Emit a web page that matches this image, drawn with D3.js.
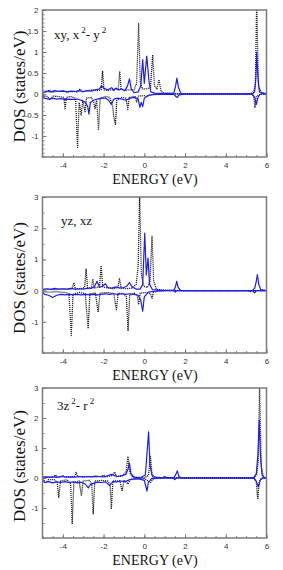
<!DOCTYPE html>
<html>
<head>
<meta charset="utf-8">
<script src="https://cdn.jsdelivr.net/npm/d3@7"></script>
<style>
  body { margin: 0; background: #fff; }
  svg { display: block; }
</style>
</head>
<body>
<script>
// energy axis ticks
var xMajor = [-4, -2, 0, 2, 4, 6];

// panel 1 : xy, x2-y2
var p1UpDot = [[-5,0.02],[-4.8,0.05],[-4.65,0.1],[-4.55,0.04],[-4.3,0.06],[-4.0,0.08],[-3.8,0.05],[-3.5,0.06],[-3.3,0.05],[-3.15,0.12],[-3.05,0.05],[-2.8,0.08],[-2.5,0.1],[-2.3,0.08],[-2.12,0.1],[-2.05,0.55],[-1.98,0.1],[-1.8,0.08],[-1.6,0.1],[-1.4,0.12],[-1.28,0.1],[-1.21,0.54],[-1.14,0.12],[-1.0,0.08],[-0.8,0.1],[-0.5,0.1],[-0.38,0.25],[-0.28,1.69],[-0.2,0.3],[-0.1,0.12],[0.1,0.12],[0.3,0.15],[0.41,0.93],[0.5,0.2],[0.62,0.12],[0.72,0.34],[0.82,0.06],[1.0,0.02],[1.5,0.01],[2,0],[5.2,0],[5.35,0.05],[5.45,0.2],[5.52,2.2],[5.6,0.2],[5.75,0.03],[6,0]];
var p1DnDot = [[-5,-0.04],[-4.75,-0.06],[-4.62,-0.14],[-4.5,-0.05],[-4.2,-0.06],[-3.95,-0.08],[-3.89,-0.37],[-3.83,-0.08],[-3.6,-0.06],[-3.38,-0.1],[-3.28,-1.27],[-3.2,-0.2],[-3.1,-0.5],[-3.02,-0.15],[-2.91,-0.42],[-2.84,-0.1],[-2.6,-0.08],[-2.48,-0.2],[-2.42,-0.35],[-2.34,-0.15],[-2.25,-0.86],[-2.17,-0.1],[-1.9,-0.06],[-1.7,-0.08],[-1.55,-0.3],[-1.5,-0.55],[-1.42,-0.72],[-1.35,-0.15],[-1.1,-0.08],[-0.9,-0.1],[-0.81,-0.37],[-0.74,-0.08],[-0.45,-0.06],[-0.37,-0.19],[-0.3,-0.05],[0,-0.04],[0.12,-0.06],[0.3,-0.02],[0.6,-0.01],[1,0],[5.3,0],[5.38,-0.08],[5.43,-0.33],[5.5,-0.06],[5.7,0],[6,0]];
var p1UpBlue = [[-5,0.03],[-4.8,0.07],[-4.6,0.05],[-4.4,0.08],[-4.2,0.06],[-4.0,0.07],[-3.8,0.05],[-3.6,0.07],[-3.4,0.06],[-3.2,0.08],[-3.0,0.06],[-2.8,0.08],[-2.6,0.07],[-2.4,0.1],[-2.2,0.12],[-2.1,0.2],[-2.0,0.14],[-1.8,0.1],[-1.6,0.15],[-1.5,0.08],[-1.4,0.14],[-1.25,0.1],[-1.1,0.12],[-0.95,0.08],[-0.82,0.2],[-0.73,0.36],[-0.64,0.12],[-0.5,0.03],[-0.3,0.05],[-0.17,0.2],[-0.08,0.82],[0.0,0.25],[0.05,0.55],[0.12,0.9],[0.23,0.3],[0.32,0.05],[0.5,0.02],[1.0,0.01],[1.45,0.02],[1.54,0.2],[1.6,0.38],[1.68,0.15],[1.8,0.01],[2.5,0],[5.3,0],[5.42,0.05],[5.48,0.4],[5.52,1.0],[5.58,0.4],[5.65,0.05],[6,0]];
var p1DnBlue = [[-5,-0.02],[-4.9,-0.1],[-4.7,-0.12],[-4.5,-0.1],[-4.3,-0.12],[-4.1,-0.11],[-3.9,-0.13],[-3.7,-0.12],[-3.5,-0.13],[-3.3,-0.12],[-3.1,-0.15],[-2.9,-0.2],[-2.78,-0.3],[-2.72,-0.48],[-2.65,-0.2],[-2.5,-0.15],[-2.3,-0.12],[-2.1,-0.1],[-1.9,-0.1],[-1.75,-0.15],[-1.62,-0.25],[-1.5,-0.12],[-1.3,-0.1],[-1.1,-0.12],[-0.9,-0.15],[-0.7,-0.1],[-0.5,-0.08],[-0.3,-0.12],[-0.22,-0.32],[-0.15,-0.2],[-0.08,-0.3],[0,-0.1],[0.2,-0.03],[0.5,-0.01],[1.45,-0.01],[1.55,-0.06],[1.62,-0.08],[1.7,-0.02],[2,0],[5.3,0],[5.42,-0.08],[5.5,-0.25],[5.58,-0.08],[5.7,0],[6,0]];

// panel 2 : yz, xz
var p2UpDot = [[-5,0.02],[-4.7,0.04],[-4.4,0.03],[-4.1,0.05],[-3.8,0.04],[-3.55,0.06],[-3.46,0.25],[-3.38,0.05],[-3.1,0.06],[-2.93,0.1],[-2.86,0.69],[-2.79,0.1],[-2.6,0.08],[-2.53,0.37],[-2.46,0.08],[-2.2,0.12],[-2.12,0.8],[-2.04,0.12],[-1.8,0.08],[-1.5,0.06],[-1.3,0.1],[-1.22,0.4],[-1.14,0.08],[-0.9,0.06],[-0.6,0.08],[-0.4,0.2],[-0.3,0.8],[-0.23,3.1],[-0.15,0.6],[-0.05,0.15],[0.15,0.1],[0.28,0.3],[0.38,1.75],[0.46,0.3],[0.6,0.04],[1,0.01],[2,0],[6,0]];
var p2DnDot = [[-5,-0.03],[-4.7,-0.05],[-4.3,-0.04],[-3.9,-0.06],[-3.7,-0.1],[-3.59,-1.44],[-3.5,-0.12],[-3.2,-0.06],[-2.9,-0.1],[-2.76,-1.22],[-2.67,-0.1],[-2.4,-0.08],[-2.27,-0.69],[-2.18,-0.08],[-1.8,-0.06],[-1.5,-0.1],[-1.37,-0.61],[-1.28,-0.08],[-1.0,-0.1],[-0.88,-0.2],[-0.8,-1.3],[-0.72,-0.15],[-0.5,-0.08],[-0.35,-0.15],[-0.28,-0.45],[-0.2,-0.08],[0.1,-0.06],[0.3,-0.1],[0.38,-0.25],[0.45,-0.05],[0.7,-0.01],[1.2,0],[5.1,0],[5.2,-0.04],[5.3,0],[6,0]];
var p2UpBlue = [[-5,0.04],[-4.8,0.06],[-4.6,0.04],[-4.4,0.07],[-4.2,0.05],[-4.0,0.06],[-3.8,0.05],[-3.6,0.07],[-3.4,0.05],[-3.2,0.06],[-3.0,0.05],[-2.8,0.07],[-2.6,0.08],[-2.45,0.12],[-2.32,0.3],[-2.2,0.1],[-2.05,0.15],[-1.91,0.22],[-1.8,0.1],[-1.6,0.08],[-1.4,0.12],[-1.2,0.08],[-1.0,0.1],[-0.85,0.15],[-0.73,0.26],[-0.6,0.12],[-0.4,0.05],[-0.2,0.05],[-0.08,0.2],[0.02,1.84],[0.1,0.5],[0.18,1.04],[0.26,0.2],[0.4,0.03],[0.8,0.01],[1.45,0.01],[1.53,0.12],[1.59,0.3],[1.66,0.1],[1.8,0],[5.3,0],[5.42,0.08],[5.5,0.3],[5.55,0.51],[5.62,0.2],[5.72,0.03],[6,0]];
var p2DnBlue = [[-5,-0.05],[-4.9,-0.12],[-4.7,-0.15],[-4.5,-0.22],[-4.3,-0.15],[-4.1,-0.12],[-3.9,-0.14],[-3.7,-0.12],[-3.5,-0.13],[-3.3,-0.12],[-3.1,-0.14],[-2.9,-0.12],[-2.7,-0.13],[-2.5,-0.12],[-2.3,-0.14],[-2.1,-0.12],[-1.9,-0.1],[-1.7,-0.12],[-1.5,-0.1],[-1.3,-0.12],[-1.1,-0.1],[-0.9,-0.12],[-0.7,-0.1],[-0.5,-0.12],[-0.3,-0.15],[-0.18,-0.3],[-0.08,-0.66],[0.0,-0.2],[0.1,-0.12],[0.2,-0.05],[0.5,-0.02],[1.0,0],[1.45,0],[1.52,-0.05],[1.6,0],[5.3,0],[5.42,-0.07],[5.5,0],[6,0]];

// panel 3 : 3z2-r2
var p3UpDot = [[-5,0.02],[-4.7,0.03],[-4.45,0.04],[-4.36,0.1],[-4.28,0.03],[-4.1,0.05],[-4.0,0.08],[-3.9,0.03],[-3.6,0.04],[-3.42,0.06],[-3.35,0.19],[-3.28,0.05],[-3.0,0.04],[-2.7,0.05],[-2.4,0.04],[-2.1,0.05],[-2.0,0.1],[-1.9,0.04],[-1.6,0.08],[-1.45,0.2],[-1.38,0.05],[-1.1,0.06],[-0.9,0.2],[-0.8,0.72],[-0.72,0.2],[-0.6,0.05],[-0.3,0.02],[0,0.01],[0.2,0.08],[0.3,0.72],[0.38,0.1],[0.6,0.01],[0.95,0.01],[1.0,0.07],[1.05,0.01],[2,0],[5.4,0],[5.52,0.1],[5.6,0.6],[5.66,3.1],[5.74,0.4],[5.85,0.03],[6,0]];
var p3DnDot = [[-5,-0.04],[-4.82,-0.15],[-4.7,-0.05],[-4.4,-0.06],[-4.28,-0.15],[-4.2,-0.66],[-4.12,-0.1],[-3.8,-0.06],[-3.62,-0.2],[-3.54,-1.54],[-3.46,-0.15],[-3.2,-0.1],[-3.09,-0.6],[-3.0,-0.1],[-2.7,-0.08],[-2.58,-0.2],[-2.51,-1.19],[-2.43,-0.1],[-2.1,-0.08],[-1.8,-0.1],[-1.68,-0.2],[-1.62,-1.04],[-1.54,-0.1],[-1.2,-0.1],[-1.09,-0.44],[-1.0,-0.08],[-0.8,-0.2],[-0.7,-0.05],[-0.3,-0.03],[0,-0.02],[0.3,-0.15],[0.45,-0.02],[1,0],[5.4,0],[5.5,-0.15],[5.57,-0.71],[5.64,-0.12],[5.75,0],[6,0]];
var p3UpBlue = [[-5,0.03],[-4.8,0.04],[-4.6,0.02],[-4.4,0.04],[-4.2,0.03],[-4.0,0.05],[-3.8,0.03],[-3.6,0.04],[-3.4,0.03],[-3.2,0.05],[-3.0,0.04],[-2.8,0.05],[-2.6,0.04],[-2.4,0.06],[-2.2,0.05],[-2.0,0.04],[-1.8,0.07],[-1.6,0.12],[-1.45,0.08],[-1.3,0.05],[-1.1,0.08],[-0.9,0.12],[-0.8,0.3],[-0.73,0.5],[-0.66,0.15],[-0.5,0.02],[-0.2,0.01],[0.05,0.1],[0.13,0.8],[0.21,1.54],[0.28,0.4],[0.4,0.04],[0.8,0.01],[1.45,0.01],[1.55,0.12],[1.62,0.24],[1.7,0.05],[1.85,0],[5.35,0],[5.5,0.15],[5.58,0.8],[5.64,1.93],[5.7,0.8],[5.78,0.1],[5.9,0.01],[6,0]];
var p3DnBlue = [[-5,-0.06],[-4.9,-0.15],[-4.7,-0.12],[-4.5,-0.16],[-4.3,-0.13],[-4.1,-0.15],[-3.9,-0.12],[-3.7,-0.15],[-3.5,-0.13],[-3.3,-0.16],[-3.1,-0.14],[-2.9,-0.2],[-2.75,-0.33],[-2.65,-0.22],[-2.5,-0.18],[-2.3,-0.14],[-2.1,-0.15],[-1.9,-0.13],[-1.7,-0.25],[-1.55,-0.12],[-1.35,-0.13],[-1.15,-0.1],[-0.95,-0.12],[-0.8,-0.08],[-0.6,-0.04],[-0.3,-0.02],[0,-0.08],[0.08,-0.3],[0.13,-0.44],[0.2,-0.15],[0.35,-0.02],[0.8,0],[1.42,0],[1.5,-0.05],[1.58,0],[5.35,0],[5.48,-0.08],[5.6,-0.3],[5.7,-0.06],[5.85,0],[6,0]];

var panels = [
  { top: 10, bottom: 157, ymin: -1.5, ymax: 2, major: [-1, -0.5, 0, 0.5, 1, 1.5, 2], minor: 0.1,
    label: [["xy, x", 0], ["2", 1], ["- y", 0], ["2", 1]], lx: 54, ly: 33,
    series: [p1UpDot, p1DnDot, p1UpBlue, p1DnBlue] },
  { top: 197, bottom: 353, ymin: -2, ymax: 3, major: [-1, 0, 1, 2, 3], minor: 0.5,
    label: [["yz, xz", 0]], lx: 61, ly: 219,
    series: [p2UpDot, p2DnDot, p2UpBlue, p2DnBlue] },
  { top: 388, bottom: 538, ymin: -2, ymax: 3, major: [-1, 0, 1, 2, 3], minor: 0.5,
    label: [["3z", 0], ["2", 1], ["- r", 0], ["2", 1]], lx: 57, ly: 404,
    series: [p3UpDot, p3DnDot, p3UpBlue, p3DnBlue] }
];

var W = 283, H = 570;
var left = 42.5, right = 266.5;

var svg = d3.select("body").append("svg")
  .attr("width", W)
  .attr("height", H);

var x = d3.scaleLinear().domain([-5, 6]).range([left, right]);

panels.forEach(function (p, i) {
  var y = d3.scaleLinear().domain([p.ymin, p.ymax]).range([p.bottom, p.top]);
  var g = svg.append("g");

  g.append("clipPath").attr("id", "clip" + i)
    .append("rect")
    .attr("x", left).attr("y", p.top)
    .attr("width", right - left).attr("height", p.bottom - p.top);

  var line = d3.line()
    .x(function (d) { return x(d[0]); })
    .y(function (d) { return y(d[1]); });

  var curves = g.append("g").attr("clip-path", "url(#clip" + i + ")");
  // dotted black first, blue over it
  p.series.forEach(function (s, k) {
    var blue = k >= 2;
    curves.append("path")
      .datum(s)
      .attr("d", line)
      .attr("fill", "none")
      .attr("stroke", blue ? "#1c1cf5" : "#1a1a1a")
      .attr("stroke-width", blue ? 1.2 : 1.3)
      .attr("stroke-dasharray", blue ? null : "1.1,0.9")
      .attr("stroke-linejoin", "round");
  });

  // x axis, ticks inward
  var xAxis = d3.axisBottom(x).tickValues(xMajor).tickSize(-4).tickPadding(5)
    .tickFormat(function (d) { return d; });
  var xMinor = d3.axisBottom(x).tickValues(d3.range(-5, 6.01, 0.5)).tickSize(-2).tickFormat("");
  g.append("g").attr("transform", "translate(0," + p.bottom + ")").call(xAxis);
  g.append("g").attr("transform", "translate(0," + p.bottom + ")").call(xMinor);

  var yAxis = d3.axisLeft(y).tickValues(p.major).tickSize(-4).tickPadding(4)
    .tickFormat(function (d) { return d; });
  var ym = d3.range(Math.ceil(p.ymin / p.minor), Math.floor(p.ymax / p.minor) + 1)
    .map(function (k) { return +(k * p.minor).toFixed(3); });
  var yMinor = d3.axisLeft(y).tickValues(ym).tickSize(-2).tickFormat("");
  g.append("g").attr("transform", "translate(" + left + ",0)").call(yAxis);
  g.append("g").attr("transform", "translate(" + left + ",0)").call(yMinor);

  g.selectAll(".domain").remove();
  g.selectAll(".tick line").attr("stroke", "#666").attr("stroke-width", 0.8);
  g.selectAll(".tick text")
    .attr("fill", "#333")
    .style("font-family", "'Liberation Sans', Arial, sans-serif")
    .style("font-size", "8px");

  // frame
  g.append("rect")
    .attr("x", left).attr("y", p.top)
    .attr("width", right - left).attr("height", p.bottom - p.top)
    .attr("fill", "none")
    .attr("stroke", "#7a7a7a")
    .attr("stroke-width", 1.5);

  // axis titles
  g.append("text")
    .attr("x", 155)
    .attr("y", p.bottom + 27)
    .attr("text-anchor", "middle")
    .style("font-family", "'Liberation Serif', 'Times New Roman', serif")
    .style("font-size", "14px")
    .attr("fill", "#111")
    .text("ENERGY (eV)");

  g.append("text")
    .attr("transform", "translate(25," + ((p.top + p.bottom) / 2 + 3) + ") rotate(-90)")
    .attr("text-anchor", "middle")
    .style("font-family", "'Liberation Serif', 'Times New Roman', serif")
    .style("font-size", "17px")
    .attr("fill", "#111")
    .text("DOS (states/eV)");

  // orbital label with superscripts
  var t = g.append("text")
    .attr("x", p.lx).attr("y", p.ly)
    .style("font-family", "'Liberation Serif', 'Times New Roman', serif")
    .style("font-size", "13px")
    .attr("fill", "#111");
  p.label.forEach(function (part) {
    t.append("tspan")
      .attr("dx", part[1] ? 2 : 0)
      .attr("dy", part[1] ? -6 : (t.selectAll("tspan").size() > 0 ? 6 : 0))
      .style("font-size", part[1] ? "9px" : "13px")
      .text(part[0]);
  });
});
</script>
</body>
</html>
